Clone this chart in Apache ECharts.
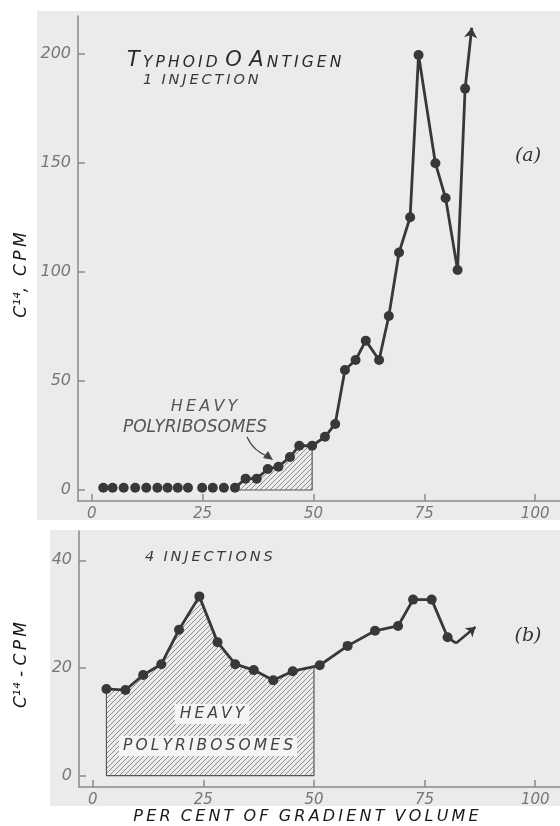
<!DOCTYPE html>
<html>
<head>
<meta charset="utf-8" />
<title>Typhoid O Antigen</title>
<script src="https://cdn.jsdelivr.net/npm/echarts@6/dist/echarts.min.js"></script>
</head>
<body style="margin:0;background:#fff">
<div id="main" style="width:560px;height:826px;"></div>
<script type="text/javascript">
// (a) 1 injection - fractions near zero are plotted as loose dots
var flatX = [2.6, 4.7, 7.2, 9.8, 12.3, 14.8, 17.1, 19.4, 21.7, 24.9, 27.3, 29.8];
var flatY = [1, 1, 1, 1, 1, 1, 1, 1, 1, 1, 1, 1];
var aX = [32.3, 34.7, 37.2, 39.7, 42.1, 44.7, 46.8, 49.7, 52.6, 54.9, 57.1, 59.5, 61.8, 64.8, 67.0, 69.3, 71.8, 73.7, 77.5, 79.8, 82.5, 84.2];
var aY = [1, 5.2, 5.2, 9.6, 10.7, 15.1, 20.3, 20.3, 24.4, 30.3, 55, 59.6, 68.5, 59.6, 79.8, 108.9, 125.1, 199.5, 149.9, 133.9, 100.9, 184.1];
var aArrow = [85.7, 212];
var aHeavy = [32.3, 49.7];

// (b) 4 injections
var bX = [3.1, 7.4, 11.4, 15.5, 19.5, 24.1, 28.2, 32.2, 36.4, 40.8, 45.2, 51.3, 57.6, 63.8, 69.0, 72.4, 76.6, 80.2];
var bY = [16.1, 15.9, 18.7, 20.7, 27.1, 33.3, 24.8, 20.7, 19.6, 17.7, 19.4, 20.5, 24.1, 26.9, 27.8, 32.7, 32.7, 25.7];
var bTail = [82.1, 24.6];
var bArrow = [86.5, 27.6];
var bHeavy = [3.1, 50];

var xTicks = [0, 25, 50, 75, 100];
var aTicks = [0, 50, 100, 150, 200];
var bTicks = [0, 20, 40];

var ink = '#383838';
var axisGray = '#8a8a8a';
var lblGray = '#777';
var font = 'DejaVu Sans';

function pairs(xs, ys) {
  return xs.map(function (x, i) { return [x, ys[i]]; });
}

// lettering is wide: put thin spaces between the letters of each word
function spaced(s, gap) {
  return s.split(' ').map(function (w) { return w.split('').join('\u2009'); }).join(gap || ' ');
}

// points of the curve inside [from, to], closed at "to"
function heavyArea(xs, ys, from, to) {
  var pts = [];
  for (var i = 0; i < xs.length; i++) {
    if (xs[i] >= from && xs[i] <= to) pts.push([xs[i], ys[i]]);
    if (xs[i] > to) {
      var t = (to - xs[i - 1]) / (xs[i] - xs[i - 1]);
      pts.push([to, ys[i - 1] + t * (ys[i] - ys[i - 1])]);
      break;
    }
  }
  return pts;
}

function hatch() {
  var c = document.createElement('canvas');
  c.width = 5; c.height = 5;
  var g = c.getContext('2d');
  g.strokeStyle = '#8c8c8c';
  g.lineWidth = 1;
  g.beginPath();
  g.moveTo(-1, 6); g.lineTo(6, -1);
  g.moveTo(-1, 1); g.lineTo(1, -1);
  g.moveTo(4, 6); g.lineTo(6, 4);
  g.stroke();
  return c;
}
var hatchFill = { image: hatch(), repeat: 'repeat' };

var aArea = heavyArea(aX, aY, aHeavy[0], aHeavy[1]);
var bArea = heavyArea(bX, bY, bHeavy[0], bHeavy[1]);
var aEnd = aArea[aArea.length - 1];
var bEnd = bArea[bArea.length - 1];

function xAx(grid, ticks) {
  return {
    type: 'value', gridIndex: grid, min: -3.1, max: 105.6,
    axisLine: { onZero: false, lineStyle: { color: axisGray, width: 1.5 } },
    axisTick: { inside: true, length: 7, customValues: ticks, lineStyle: { color: axisGray, width: 1.5 } },
    axisLabel: { customValues: ticks, margin: 6, color: lblGray, fontSize: 15, fontStyle: 'italic', fontFamily: font },
    splitLine: { show: false }
  };
}
function yAx(grid, min, max, ticks) {
  return {
    type: 'value', gridIndex: grid, min: min, max: max,
    axisLine: { show: true, onZero: false, lineStyle: { color: axisGray, width: 1.5 } },
    axisTick: { show: true, inside: true, length: 7, customValues: ticks, lineStyle: { color: axisGray, width: 1.5 } },
    axisLabel: { customValues: ticks, margin: 7, color: lblGray, fontSize: 16, fontStyle: 'italic', fontFamily: font },
    splitLine: { show: false }
  };
}

function txt(x, y, text, size, color, extra) {
  var st = { text: text, fontSize: size, fontFamily: font, fontStyle: 'italic', fill: color, align: 'center', verticalAlign: 'middle' };
  for (var k in (extra || {})) st[k] = extra[k];
  return { type: 'text', x: x, y: y, z: 50, style: st };
}

var myChart = echarts.init(document.getElementById('main'));
var option = {
  backgroundColor: '#ffffff',
  animation: false,
  grid: [
    { left: 78, right: 0, top: 16, height: 485 },
    { left: 79, right: 0, top: 531, height: 256 }
  ],
  xAxis: [xAx(0, xTicks), xAx(1, xTicks)],
  yAxis: [yAx(0, -5.05, 217.4, aTicks), yAx(1, -2.12, 45.45, bTicks)],
  graphic: [
    { type: 'rect', z: -100, shape: { x: 37, y: 11, width: 523, height: 509 }, style: { fill: '#ebebeb' } },
    { type: 'rect', z: -100, shape: { x: 50, y: 530, width: 510, height: 276 }, style: { fill: '#ebebeb' } },
    {
      type: 'text', x: 127, y: 71, z: 50,
      style: {
        text: '{b|T}{s|\u2009' + spaced('YPHOID') + '}  {b|O}  {b|A}{s|\u2009' + spaced('NTIGEN') + '}',
        fill: '#2a2a2a', fontFamily: font, fontStyle: 'italic', verticalAlign: 'bottom',
        rich: {
          b: { fontSize: 21, fontFamily: font, fontStyle: 'italic', verticalAlign: 'bottom', lineHeight: 24 },
          s: { fontSize: 15.5, fontFamily: font, fontStyle: 'italic', verticalAlign: 'bottom', lineHeight: 24 }
        }
      }
    },
    txt(143, 80, spaced('1 INJECTION', '  '), 14.5, '#3a3a3a', { align: 'left' }),
    txt(528, 156, '(a)', 19, '#333', { fontFamily: 'DejaVu Serif' }),
    txt(204, 407, spaced('HEAVY'), 16, '#555'),
    txt(195, 428, 'POLYRIBOSOMES', 17, '#555'),
    { type: 'bezierCurve', z: 50, shape: { x1: 247, y1: 437, x2: 269, y2: 457, cpx1: 253, cpy1: 451 }, style: { stroke: '#444', lineWidth: 1.3, fill: null } },
    { type: 'polygon', z: 50, shape: { points: [[273, 460], [263, 458], [268, 451]] }, style: { fill: '#444' } },
    txt(145, 557, spaced('4 INJECTIONS', '  '), 14.5, '#3a3a3a', { align: 'left' }),
    txt(528, 636, '(b)', 19, '#333', { fontFamily: 'DejaVu Serif' }),
    txt(212, 714, spaced('HEAVY'), 15.5, '#444', { backgroundColor: '#f4f4f4', padding: [2, 5] }),
    txt(208, 746, spaced('POLYRIBOSOMES'), 15.5, '#444', { backgroundColor: '#f4f4f4', padding: [2, 4] }),
    { type: 'text', x: 22, y: 275, rotation: Math.PI / 2, z: 50,
      style: { text: 'C¹⁴,  ' + spaced('CPM'), fontSize: 17, fontFamily: font, fontStyle: 'italic', fill: '#1a1a1a', align: 'center', verticalAlign: 'middle' } },
    { type: 'text', x: 22, y: 665, rotation: Math.PI / 2, z: 50,
      style: { text: 'C¹⁴ - ' + spaced('CPM'), fontSize: 17, fontFamily: font, fontStyle: 'italic', fill: '#1a1a1a', align: 'center', verticalAlign: 'middle' } },
    txt(306, 817, spaced('PER CENT OF GRADIENT VOLUME').replace(/ /g, '  '), 16, '#1a1a1a')
  ],
  series: [
    // panel (a)
    { type: 'line', xAxisIndex: 0, yAxisIndex: 0, data: aArea, symbol: 'none', z: 1,
      lineStyle: { width: 0 }, areaStyle: { color: hatchFill, opacity: 1 } },
    { type: 'line', xAxisIndex: 0, yAxisIndex: 0, symbol: 'none', z: 1,
      data: [[aHeavy[0], 0], [aEnd[0], 0], aEnd], lineStyle: { color: '#555', width: 1.2 } },
    { type: 'scatter', xAxisIndex: 0, yAxisIndex: 0, data: pairs(flatX, flatY),
      symbolSize: 10, itemStyle: { color: ink, opacity: 1 } },
    { type: 'line', xAxisIndex: 0, yAxisIndex: 0, data: pairs(aX, aY),
      symbol: 'circle', symbolSize: 10, itemStyle: { color: ink }, lineStyle: { color: ink, width: 2.8 } },
    { type: 'lines', coordinateSystem: 'cartesian2d', xAxisIndex: 0, yAxisIndex: 0,
      symbol: ['none', 'arrow'], symbolSize: 10,
      data: [{ coords: [[aX[aX.length - 1], aY[aY.length - 1]], aArrow] }],
      lineStyle: { color: ink, width: 2.8, opacity: 1 } },
    // panel (b)
    { type: 'line', xAxisIndex: 1, yAxisIndex: 1, data: bArea, symbol: 'none', z: 1,
      lineStyle: { width: 0 }, areaStyle: { color: hatchFill, opacity: 1 } },
    { type: 'line', xAxisIndex: 1, yAxisIndex: 1, symbol: 'none', z: 1,
      data: [bArea[0], [bHeavy[0], 0], [bEnd[0], 0], bEnd], lineStyle: { color: '#555', width: 1.2 } },
    { type: 'line', xAxisIndex: 1, yAxisIndex: 1,
      data: pairs(bX, bY).concat([{ value: bTail, symbol: 'none' }]),
      symbol: 'circle', symbolSize: 10, itemStyle: { color: ink }, lineStyle: { color: ink, width: 2.8 } },
    { type: 'lines', coordinateSystem: 'cartesian2d', xAxisIndex: 1, yAxisIndex: 1,
      symbol: ['none', 'arrow'], symbolSize: 9,
      data: [{ coords: [bTail, bArrow] }],
      lineStyle: { color: ink, width: 2.5, opacity: 1 } }
  ]
};
myChart.setOption(option);
</script>
</body>
</html>
